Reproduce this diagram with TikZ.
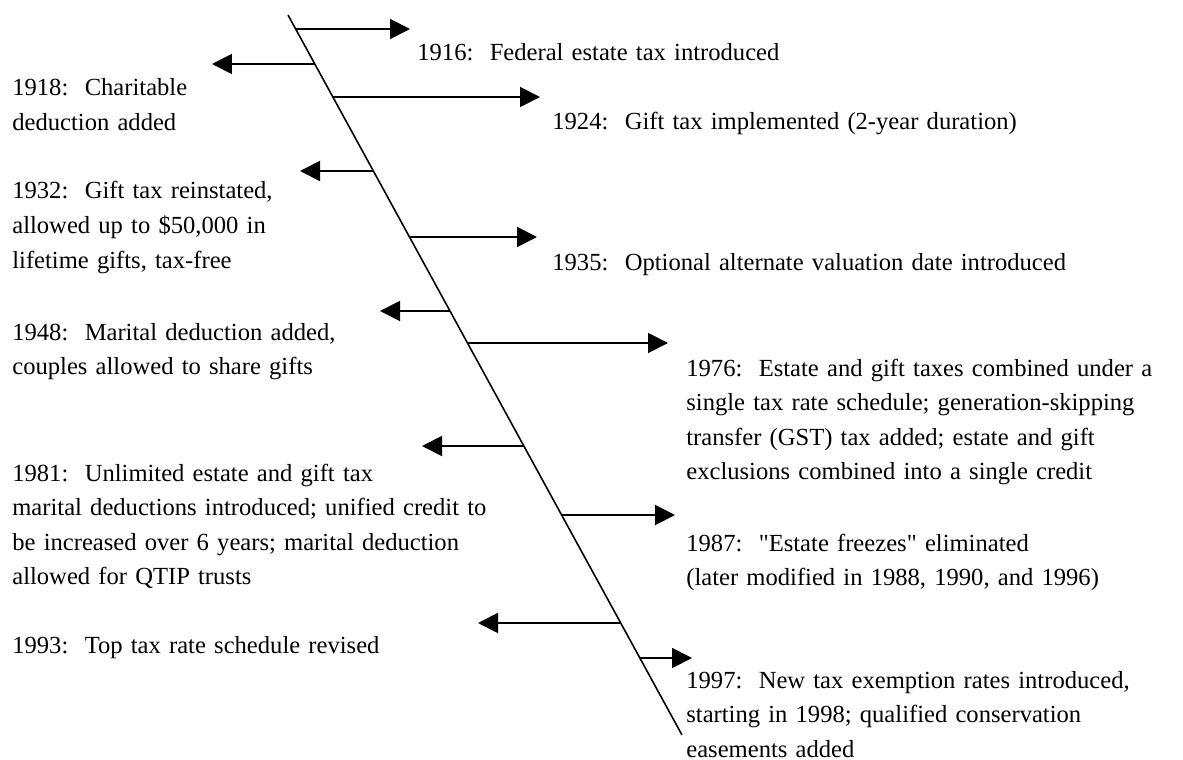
\documentclass[tikz,border=0pt]{standalone}
\usepackage{fontspec}
\setmainfont{Liberation Serif}[Ligatures=TeXOff]
\usepackage{tikz}
\usetikzlibrary{arrows.meta}
\tikzset{
  eventarrow/.style={line width=1.1pt,-{Triangle[length=4mm,width=4mm]}},
  eventtext/.style={anchor=base west,inner sep=0pt,align=left,text width=12cm,
    font=\fontsize{14}{19.7}\selectfont}
}

\begin{document}
\begin{tikzpicture}[x=0.02cm,y=-0.02cm]

\useasboundingbox (0,0) rectangle (1183,760);

\coordinate (top) at (288,15);
\coordinate (bot) at (682,735);
\draw[line width=0.9pt] (top) -- (bot);

\coordinate (s1916) at (295.7,29);
\coordinate (s1918) at (314.8,64);
\coordinate (s1924) at (332.9,97);
\coordinate (s1932) at (373.4,171);
\coordinate (s1935) at (409.5,237);
\coordinate (s1948) at (450,311);
\coordinate (s1976) at (467.5,343);
\coordinate (s1981) at (523.8,446);
\coordinate (s1987) at (561.6,515);
\coordinate (s1993) at (620.7,623);
\coordinate (s1997) at (639.9,658);

\coordinate (e1916) at (410,29);
\coordinate (e1918) at (212,64);
\coordinate (e1924) at (540,97);
\coordinate (e1932) at (300,171);
\coordinate (e1935) at (537,237);
\coordinate (e1948) at (380,311);
\coordinate (e1976) at (668,343);
\coordinate (e1981) at (422,446);
\coordinate (e1987) at (675,515);
\coordinate (e1993) at (478,623);
\coordinate (e1997) at (692,658);

\draw[eventarrow] (s1916) -- (e1916);
\draw[eventarrow] (s1918) -- (e1918);
\draw[eventarrow] (s1924) -- (e1924);
\draw[eventarrow] (s1932) -- (e1932);
\draw[eventarrow] (s1935) -- (e1935);
\draw[eventarrow] (s1948) -- (e1948);
\draw[eventarrow] (s1976) -- (e1976);
\draw[eventarrow] (s1981) -- (e1981);
\draw[eventarrow] (s1987) -- (e1987);
\draw[eventarrow] (s1993) -- (e1993);
\draw[eventarrow] (s1997) -- (e1997);

\node[eventtext] (t1916) at (417,61) {1916:\ \ Federal estate tax introduced};
\node[eventtext] (t1918) at (12,96) {1918:\ \ Charitable\\deduction added};
\node[eventtext] (t1924) at (552,130) {1924:\ \ Gift tax implemented (2-year duration)};
\node[eventtext] (t1932) at (12,199) {1932:\ \ Gift tax reinstated,\\allowed up to \$50,000 in\\lifetime gifts, tax-free};
\node[eventtext] (t1935) at (552,271) {1935:\ \ Optional alternate valuation date introduced};
\node[eventtext] (t1948) at (12,340) {1948:\ \ Marital deduction added,\\couples allowed to share gifts};
\node[eventtext] (t1976) at (686,376) {1976:\ \ Estate and gift taxes combined under a\\single tax rate schedule; generation-skipping\\transfer (GST) tax added; estate and gift\\exclusions combined into a single credit};
\node[eventtext] (t1981) at (12,481) {1981:\ \ Unlimited estate and gift tax\\marital deductions introduced; unified credit to\\be increased over 6 years; marital deduction\\allowed for QTIP trusts};
\node[eventtext] (t1987) at (686,551) {1987:\ \ "Estate freezes" eliminated\\(later modified in 1988, 1990, and 1996)};
\node[eventtext] (t1993) at (12,653) {1993:\ \ Top tax rate schedule revised};
\node[eventtext] (t1997) at (686,688) {1997:\ \ New tax exemption rates introduced,\\starting in 1998; qualified conservation\\easements added};

\end{tikzpicture}
\end{document}
